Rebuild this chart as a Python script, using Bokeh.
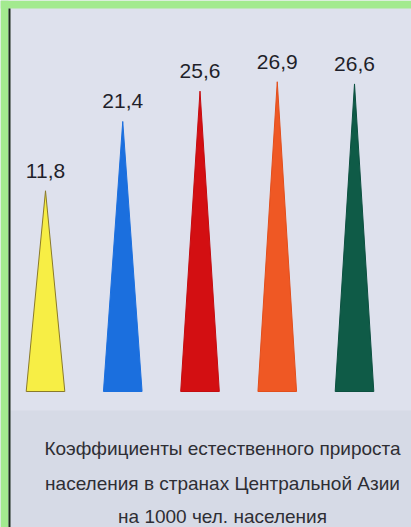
from bokeh.plotting import figure
from bokeh.models import ColumnDataSource, Label, BoxAnnotation
from bokeh.core.properties import value
from bokeh.embed import file_html
from bokeh.resources import INLINE

# ---- data ----
values = [11.8, 21.4, 25.6, 26.9, 26.6]
value_labels = ["11,8", "21,4", "25,6", "26,9", "26,6"]
colors = ["#f7ee45", "#1b6fde", "#d30f12", "#ef5824", "#0f5b47"]
outline_colors = ["#8a7a2a", "#1b6fde", "#c40c10", "#e24e1c", "#0c5040"]
caption_lines = [
    "Коэффициенты естественного прироста",
    "населения в странах Центральной Азии",
    "на 1000 чел. населения",
]

# ---- layout parameters ----
W, H = 411, 527
FONT = "Liberation Sans"
BASE = -16.0          # value at which the spikes start
HALF = 0.25           # half width of a spike base (x units)
PX_Y = 7.22           # pixels per value unit
BASE_PX = 136         # baseline, pixels from bottom
FIRST_PX = 45         # first spike centre, pixels from left
STEP_PX = 77.25       # spacing between spikes, pixels

y_start = BASE - BASE_PX / PX_Y
y_end = y_start + H / PX_Y
x_start = 1 - FIRST_PX / STEP_PX
x_end = x_start + W / STEP_PX


def ydata(px_from_top):
    return y_start + (H - px_from_top) / PX_Y


def xdata(px_from_left):
    return x_start + px_from_left / STEP_PX


positions = list(range(1, len(values) + 1))
xs = [[i - HALF, i, i + HALF] for i in positions]
ys = [[BASE, v, BASE] for v in values]

src = ColumnDataSource(dict(xs=xs, ys=ys, color=colors, lc=outline_colors))
lab = ColumnDataSource(dict(x=positions, y=values, text=value_labels))

p = figure(width=W, height=H, x_range=(x_start, x_end), y_range=(y_start, y_end),
           output_backend="svg", toolbar_location=None, min_border=0,
           x_axis_location=None, y_axis_location=None)
p.grid.visible = False
p.outline_line_color = None
p.background_fill_color = "#dee1ed"
p.border_fill_color = "#dee1ed"

# slightly darker caption band
p.add_layout(BoxAnnotation(top=ydata(410), fill_color="#d6dae6", fill_alpha=1.0,
                           line_alpha=0))
# green frame strips (top and left) and dark rule
p.add_layout(BoxAnnotation(right=xdata(8), fill_color="#a3ea8f", fill_alpha=1.0,
                           line_alpha=0))
p.add_layout(BoxAnnotation(bottom=ydata(8), fill_color="#a3ea8f", fill_alpha=1.0,
                           line_alpha=0))
p.add_layout(BoxAnnotation(left=xdata(8), right=xdata(10), top=ydata(8),
                           fill_color="#1c2a1c", fill_alpha=1.0, line_alpha=0))

p.patches("xs", "ys", source=src, fill_color="color", line_color="lc", line_width=1)

p.text("x", "y", text="text", source=lab, text_align="center",
       text_baseline="alphabetic", y_offset=-20, text_font=value(FONT),
       text_font_size="21px", text_color="#1f1f2a")

for line, yb in zip(caption_lines, [448, 483, 516]):
    p.add_layout(Label(x=xdata(222), y=ydata(yb), text=line, text_align="center",
                       text_baseline="alphabetic", text_font=FONT,
                       text_font_size="19px", text_color="#2e2e34"))

open("out.html", "w").write(file_html(p, INLINE))
